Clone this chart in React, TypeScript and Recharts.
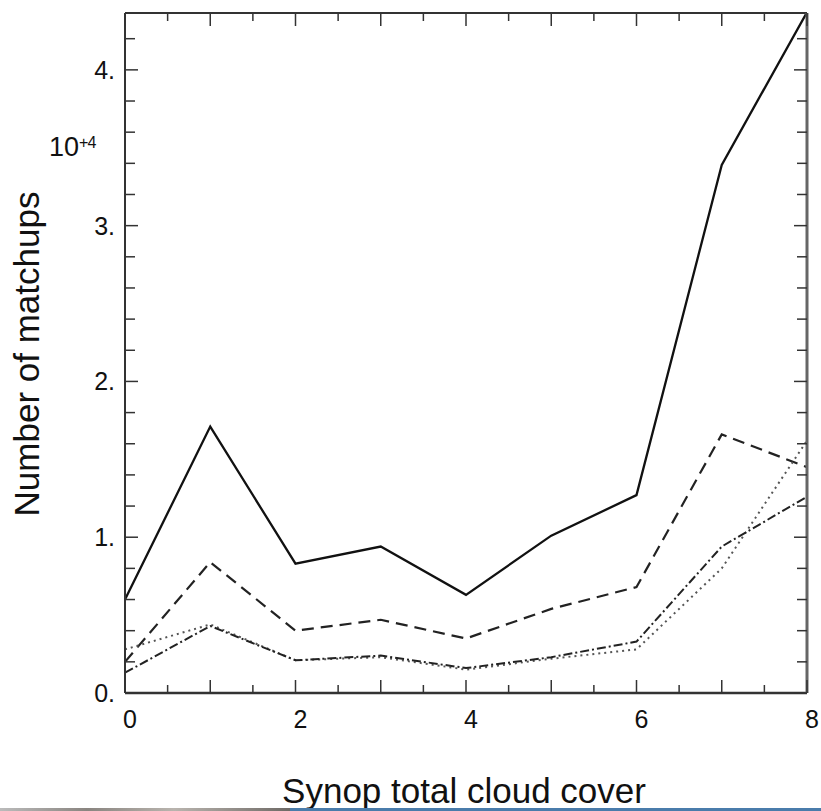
import { LineChart, Line, XAxis, YAxis } from "recharts";

// cloud cover categories (oktas)
const cover = [0, 1, 2, 3, 4, 5, 6, 7, 8];

// number of matchups, in units of 10^4
const solid = [0.6, 1.71, 0.83, 0.94, 0.63, 1.01, 1.27, 3.39, 4.37];
const dashed = [0.2, 0.84, 0.4, 0.47, 0.35, 0.54, 0.68, 1.66, 1.45];
const dotted = [0.28, 0.44, 0.21, 0.23, 0.15, 0.22, 0.28, 0.8, 1.62];
const dashDot = [0.13, 0.43, 0.21, 0.24, 0.16, 0.23, 0.33, 0.94, 1.26];

const xTicks = [0, 0.5, 1, 1.5, 2, 2.5, 3, 3.5, 4, 4.5, 5, 5.5, 6, 6.5, 7, 7.5, 8];
const xLabels = [0, 2, 4, 6, 8];
const yTicks = [0, 0.2, 0.4, 0.6, 0.8, 1, 1.2, 1.4, 1.6, 1.8, 2, 2.2, 2.4, 2.6, 2.8, 3, 3.2, 3.4, 3.6, 3.8, 4, 4.2];
const yLabels = [0, 1, 2, 3, 4];

const data = cover.map((c, i) => ({
  c,
  solid: solid[i],
  dashed: dashed[i],
  dotted: dotted[i],
  dashDot: dashDot[i],
}));

const FONT = "'Liberation Sans', Arial, Helvetica, sans-serif";
const AXIS = "#333";

const isInt = (v: number) => Math.abs(v - Math.round(v)) < 1e-6;

const BottomTick = ({ x, y, payload }: any) => {
  const v = payload.value;
  const len = isInt(v) ? 13 : 8;
  return (
    <g>
      <line x1={x} y1={y} x2={x} y2={y - len} stroke={AXIS} strokeWidth={1.5} />
      {xLabels.includes(v) && (
        <text x={x + 5} y={y + 35} textAnchor="middle" fontSize={25} fontFamily={FONT} fill="#111">
          {v}
        </text>
      )}
    </g>
  );
};

const TopTick = ({ x, y, payload }: any) => {
  const len = isInt(payload.value) ? 13 : 8;
  return <line x1={x} y1={y} x2={x} y2={y + len} stroke={AXIS} strokeWidth={1.5} />;
};

const LeftTick = ({ x, y, payload }: any) => {
  const v = payload.value;
  const major = yLabels.includes(v);
  return (
    <g>
      <line x1={x} y1={y} x2={x + (major ? 13 : 10)} y2={y} stroke={AXIS} strokeWidth={1.5} />
      {major && (
        <text x={x - 10} y={y + 9} textAnchor="end" fontSize={25} fontFamily={FONT} fill="#111">
          {`${v}.`}
        </text>
      )}
    </g>
  );
};

const RightTick = ({ x, y, payload }: any) => {
  const major = yLabels.includes(payload.value);
  return <line x1={x} y1={y} x2={x - (major ? 13 : 10)} y2={y} stroke={AXIS} strokeWidth={1.5} />;
};

export default function App() {
  return (
    <div style={{ position: "absolute", left: 0, top: 0, width: 821, height: 811, background: "#fff", fontFamily: FONT }}>
      <LineChart width={821} height={811} data={data} margin={{ top: 12, right: 13, bottom: 117, left: 124 }}>
        <XAxis
          dataKey="c"
          type="number"
          domain={[0, 8]}
          ticks={xTicks}
          interval={0}
          height={1}
          tickSize={0}
          tickMargin={0}
          tickLine={false}
          tick={<BottomTick />}
          axisLine={{ stroke: AXIS, strokeWidth: 2.5 }}
        />
        <XAxis
          xAxisId="top"
          orientation="top"
          dataKey="c"
          type="number"
          domain={[0, 8]}
          ticks={xTicks}
          interval={0}
          height={1}
          tickSize={0}
          tickMargin={0}
          tickLine={false}
          tick={<TopTick />}
          axisLine={{ stroke: AXIS, strokeWidth: 2 }}
        />
        <YAxis
          type="number"
          domain={[0, 4.365]}
          ticks={yTicks}
          interval={0}
          width={1}
          tickSize={0}
          tickMargin={0}
          tickLine={false}
          tick={<LeftTick />}
          axisLine={{ stroke: AXIS, strokeWidth: 2 }}
          allowDataOverflow
        />
        <YAxis
          yAxisId="right"
          orientation="right"
          type="number"
          domain={[0, 4.365]}
          ticks={yTicks}
          interval={0}
          width={1}
          tickSize={0}
          tickMargin={0}
          tickLine={false}
          tick={<RightTick />}
          axisLine={{ stroke: "#666", strokeWidth: 3 }}
          allowDataOverflow
        />
        <Line dataKey="solid" stroke="#111" strokeWidth={2.3} dot={false} isAnimationActive={false} />
        <Line dataKey="dashed" stroke="#222" strokeWidth={2.2} strokeDasharray="12 7" dot={false} isAnimationActive={false} />
        <Line dataKey="dotted" stroke="#555" strokeWidth={2} strokeDasharray="2 4" dot={false} isAnimationActive={false} />
        <Line dataKey="dashDot" stroke="#222" strokeWidth={2} strokeDasharray="9 3 2 3" dot={false} isAnimationActive={false} />
      </LineChart>

      <div style={{ position: "absolute", left: 49, top: 134, fontSize: 27, color: "#111", lineHeight: 1, whiteSpace: "nowrap" }}>
        10
        <span style={{ fontSize: 16, verticalAlign: "top", position: "relative", top: 1, letterSpacing: -1 }}>+4</span>
      </div>

      <div
        style={{
          position: "absolute",
          left: 26,
          top: 354,
          transform: "translate(-50%, -50%) rotate(-90deg)",
          fontSize: 35,
          color: "#111",
          whiteSpace: "nowrap",
          lineHeight: 1,
        }}
      >
        Number of matchups
      </div>

      <div
        style={{
          position: "absolute",
          left: 464,
          top: 773,
          transform: "translateX(-50%)",
          fontSize: 35,
          color: "#111",
          whiteSpace: "nowrap",
          lineHeight: 1,
        }}
      >
        Synop total cloud cover
      </div>

      <div style={{ position: "absolute", left: 0, top: 808, width: 821, height: 3, display: "flex" }}>
        <div style={{ width: 290, background: "linear-gradient(90deg, #bbb, #8a8580 30%, #b9b4ae 60%, #6f6a66)" }} />
        <div style={{ flex: 1, background: "#4a7cab" }} />
      </div>
    </div>
  );
}
